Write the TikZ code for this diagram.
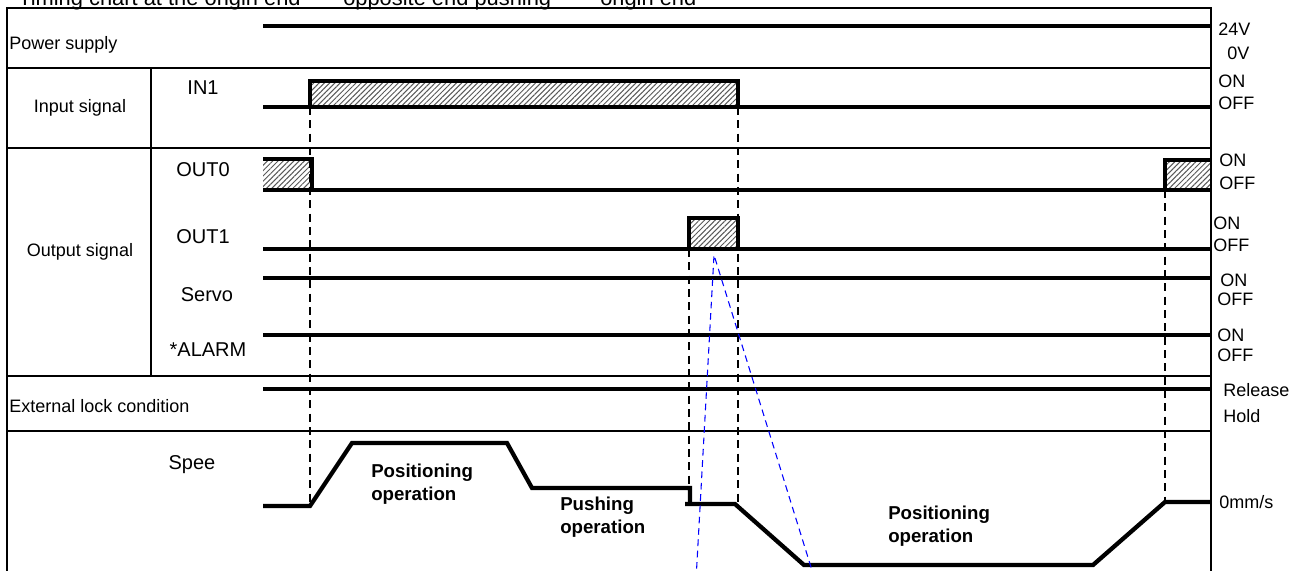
\documentclass[tikz,border=0pt]{standalone}
\usepackage{fontspec}
\setmainfont{Liberation Sans}
\usetikzlibrary{patterns.meta}
\begin{document}
\begin{tikzpicture}[x=0.75pt,y=-0.75pt,
  frame/.style={line width=1.4pt},
  sig/.style={line width=3.2pt, line join=miter},
  hatch/.style={pattern={Lines[angle=45,distance=2.8pt,line width=0.75pt]},pattern color=black!65},
  guide/.style={line width=1.2pt, dash pattern=on 6pt off 4pt},
  blueguide/.style={blue, line width=0.8pt, dash pattern=on 5pt off 3.5pt},
  rowlab/.style={font=\fontsize{13.5}{16}\selectfont, inner sep=0pt},
  siglab/.style={font=\fontsize{15}{18}\selectfont, inner sep=0pt},
  lvl/.style={font=\fontsize{13.5}{16}\selectfont, inner sep=0pt, anchor=west},
  oplab/.style={font=\bfseries\fontsize{14}{17}\selectfont, align=left, inner sep=0pt, anchor=west},
  ttl/.style={font=\fontsize{16.4}{20}\selectfont, inner sep=0pt, anchor=base west},
]
\useasboundingbox (0,0) rectangle (1303,571);
\clip (0,0) rectangle (1303,571);
\fill[white] (0,0) rectangle (1303,571);

% title (cut at the top, as in the reference)
\node[ttl] (t1) at (18,5) {Timing chart at the origin end};
\node[ttl] (t2) at (343,5) {opposite end pushing};
\node[ttl] (t3) at (600,5) {origin end};

% hatched areas
\fill[hatch] (310,81) rectangle (738,107);
\fill[hatch] (263,159) rectangle (312,190);
\fill[hatch] (1165,160) rectangle (1211,190);
\fill[hatch] (689,218) rectangle (738,249);

% frame
\draw[frame] (7,580) -- (7,8) -- (1211,8) -- (1211,580);
\draw[frame] (7,68) -- (1211,68);
\draw[frame] (7,148) -- (1211,148);
\draw[frame] (7,376) -- (1211,376);
\draw[frame] (7,431) -- (1211,431);
\draw[frame] (151,68) -- (151,376);

% signal traces
\draw[sig] (263,26) -- (1211,26);
\draw[sig] (263,107) -- (1211,107);
\draw[sig] (310,107) -- (310,81) -- (738,81) -- (738,107);
\draw[sig] (263,159) -- (312,159) -- (312,190);
\draw[sig] (263,190) -- (1211,190);
\draw[sig] (1211,160) -- (1165,160) -- (1165,190);
\draw[sig] (263,249) -- (1211,249);
\draw[sig] (689,249) -- (689,218) -- (738,218) -- (738,249);
\draw[sig] (263,278) -- (1211,278);
\draw[sig] (263,335) -- (1211,335);
\draw[sig] (263,389) -- (1211,389);

% speed
\draw[sig] (263,506) -- (310,506) -- (352,443) -- (507,443) -- (532,488) -- (690,488) -- (690,504);
\draw[sig] (685,504) -- (735,504) -- (804,565) -- (1093,565) -- (1165,502) -- (1211,502);

% guide coordinates
\coordinate (g1a) at (310,107); \coordinate (g1b) at (310,506);
\coordinate (g2a) at (738,107); \coordinate (g2b) at (738,504);
\coordinate (g3a) at (689,249); \coordinate (g3b) at (689,488);
\coordinate (g4a) at (1165,190); \coordinate (g4b) at (1165,502);
\draw[guide] (g1a) -- (g1b);
\draw[guide] (g2a) -- (g2b);
\draw[guide] (g3a) -- (g3b);
\draw[guide] (g4a) -- (g4b);

\coordinate (apex) at (714,255);
\coordinate (bl) at (696,580);
\coordinate (br) at (815,580);
\draw[blueguide] (bl) -- (apex) -- (br);

% row labels
\node[rowlab, anchor=west] (ps) at (9,45) {Power supply};
\node[rowlab] (ins) at (80,108) {Input signal};
\node[rowlab] (outs) at (80,252) {Output signal};
\node[rowlab, anchor=west] (ext) at (9,406) {External lock condition};

% signal names
\node[siglab] (in1) at (203,88) {IN1};
\node[siglab] (out0) at (203,170) {OUT0};
\node[siglab] (out1) at (203,237) {OUT1};
\node[siglab] (servo) at (207,295) {Servo};
\node[siglab] (alarm) at (208,350) {*ALARM};
\node[siglab] (spee) at (192,465) {Spee};

% level labels
\node[lvl] (v24) at (1218,29) {24V};
\node[lvl] (v0) at (1227,53) {0V};
\node[lvl] (on1) at (1218,81) {ON};
\node[lvl] (off1) at (1218,103) {OFF};
\node[lvl] (on2) at (1219,160) {ON};
\node[lvl] (off2) at (1219,183) {OFF};
\node[lvl] (on3) at (1213,223) {ON};
\node[lvl] (off3) at (1213,245) {OFF};
\node[lvl] (on4) at (1220,280) {ON};
\node[lvl] (off4) at (1217,299) {OFF};
\node[lvl] (on5) at (1217,335) {ON};
\node[lvl] (off5) at (1217,355) {OFF};
\node[lvl] (rel) at (1223,390) {Release};
\node[lvl] (hold) at (1223,416) {Hold};
\node[lvl] (zero) at (1219,502) {0mm/s};

% operation labels
\node[oplab] (op1) at (371,484) {Positioning\\operation};
\node[oplab] (op2) at (560,517) {Pushing\\operation};
\node[oplab] (op3) at (888,526) {Positioning\\operation};
\end{tikzpicture}
\end{document}
